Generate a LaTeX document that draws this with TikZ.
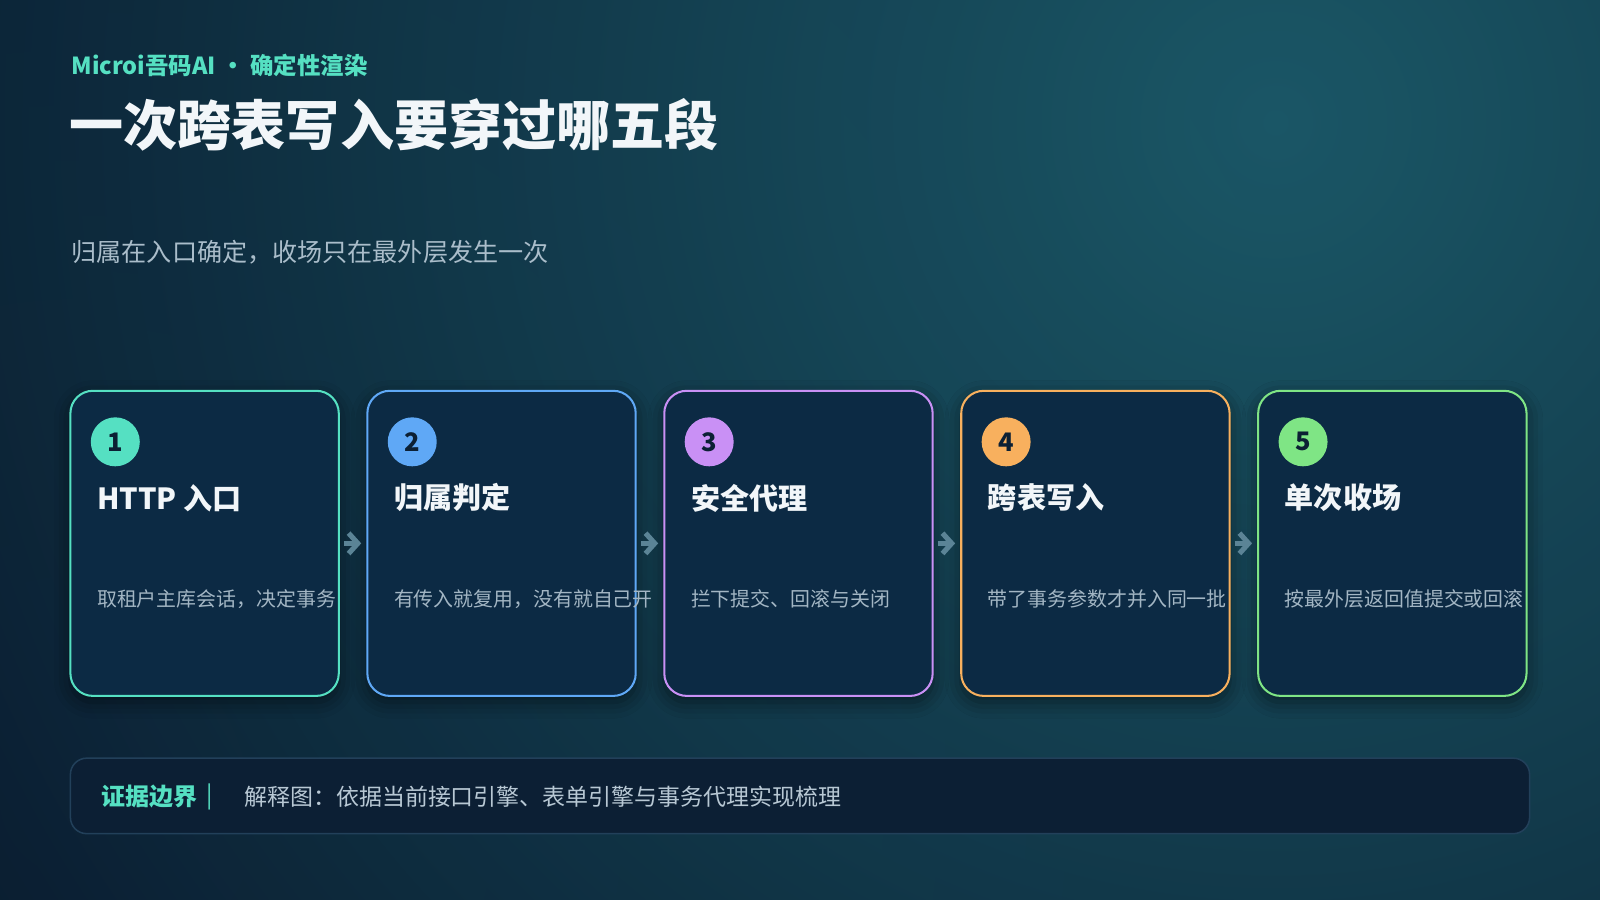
\documentclass[tikz,border=0pt]{standalone}
\usepackage{fontspec}
\setmainfont{Noto Sans CJK SC}
\newfontfamily\heavyfont{Noto Sans CJK SC Black}
\usetikzlibrary{positioning}
\usetikzlibrary{calc}
\usetikzlibrary{arrows.meta}
\usetikzlibrary{shadows.blur}

\definecolor{bgDark}{HTML}{0A1C2F}
\definecolor{bgGlow}{HTML}{1B5A69}
\definecolor{bgLow}{HTML}{0E3450}
\definecolor{cardFill}{HTML}{0C2A44}
\definecolor{mint}{HTML}{55E0C2}
\definecolor{skyBlue}{HTML}{5FA8F6}
\definecolor{lilac}{HTML}{C990F5}
\definecolor{amber}{HTML}{F8B05E}
\definecolor{leaf}{HTML}{7FE585}
\definecolor{titleWhite}{HTML}{F2F6F9}
\definecolor{subGray}{HTML}{AABDCA}
\definecolor{descGray}{HTML}{A3B6C4}
\definecolor{numText}{HTML}{0C2034}
\definecolor{arrowGray}{HTML}{5B8496}
\definecolor{noteFill}{HTML}{0C1F34}
\definecolor{noteLine}{HTML}{22405A}
\definecolor{noteText}{HTML}{B8C8D4}

\tikzset{
    card/.style = {draw, line width = 2pt, rounded corners = 22pt, fill = cardFill,
        minimum width = 263pt, minimum height = 299pt, inner sep = 0pt, outer sep = 0pt,
        blur shadow = {shadow xshift = 0pt, shadow yshift = -6pt, shadow blur radius = 16pt, shadow opacity = 50}},
    numdot/.style = {circle, minimum size = 48pt, inner sep = 0pt, text = numText,
        font = \fontsize{25}{25}\selectfont\bfseries},
    heading/.style = {anchor = west, inner sep = 0pt, text = titleWhite,
        font = \fontsize{28.5}{28.5}\selectfont\bfseries},
    desc/.style = {anchor = west, inner sep = 0pt, text = descGray,
        font = \fontsize{19.5}{19.5}\selectfont},
    flow/.style = {line width = 5pt, draw = arrowGray, -{Straight Barb[length = 9pt, width = 20pt]},
        shorten <= 5pt, shorten >= 6pt},
}

\begin{document}
\begin{tikzpicture}[x = 1pt, y = 1pt]
    \useasboundingbox (0,18) rectangle (1568,900);

    % background
    \begin{scope}
        \clip (0,18) rectangle (1568,900);
        \fill[bgDark] (0,18) rectangle (1568,900);
        \shade[inner color = bgLow, outer color = bgDark] (80,120) circle (1300);
        \shade[inner color = bgGlow, outer color = bgDark, opacity = 0.95] (1250,780) circle (1500);
    \end{scope}

    %\draw[help lines, opacity = 0.1] (0,18) grid[step = 100] (1568,900);

    % header
    \node (eyebrow) [anchor = west, inner sep = 0pt, text = mint, font = \fontsize{23}{23}\selectfont\bfseries]
        at (70,836) {Microi吾码AI • 确定性渲染};
    \node (title) [anchor = west, inner sep = 0pt, text = titleWhite, font = \fontsize{53}{53}\heavyfont]
        at (68,778) {一次跨表写入要穿过哪五段};
    \node (subtitle) [anchor = west, inner sep = 0pt, text = subGray, font = \fontsize{24.6}{24.6}\selectfont]
        at (70,653) {归属在入口确定，收场只在最外层发生一次};

    % cards
    \node (c1) [card, draw = mint] at (200.5,367.5) {};
    \node (c2) [card, draw = skyBlue, right = 28pt of c1] {};
    \node (c3) [card, draw = lilac, right = 28pt of c2] {};
    \node (c4) [card, draw = amber, right = 28pt of c3] {};
    \node (c5) [card, draw = leaf, right = 28pt of c4] {};

    \node (n1) [numdot, fill = mint] at ($(c1.north west) + (44,-50)$) {1};
    \node (h1) [heading] at ($(c1.north west) + (26,-105)$) {HTTP 入口};
    \node (d1) [desc] at ($(c1.north west) + (26,-204)$) {取租户主库会话，决定事务};

    \node (n2) [numdot, fill = skyBlue] at ($(c2.north west) + (44,-50)$) {2};
    \node (h2) [heading] at ($(c2.north west) + (26,-105)$) {归属判定};
    \node (d2) [desc] at ($(c2.north west) + (26,-204)$) {有传入就复用，没有就自己开};

    \node (n3) [numdot, fill = lilac] at ($(c3.north west) + (44,-50)$) {3};
    \node (h3) [heading] at ($(c3.north west) + (26,-105)$) {安全代理};
    \node (d3) [desc] at ($(c3.north west) + (26,-204)$) {拦下提交、回滚与关闭};

    \node (n4) [numdot, fill = amber] at ($(c4.north west) + (44,-50)$) {4};
    \node (h4) [heading] at ($(c4.north west) + (26,-105)$) {跨表写入};
    \node (d4) [desc] at ($(c4.north west) + (26,-204)$) {带了事务参数才并入同一批};

    \node (n5) [numdot, fill = leaf] at ($(c5.north west) + (44,-50)$) {5};
    \node (h5) [heading] at ($(c5.north west) + (26,-105)$) {单次收场};
    \node (d5) [desc] at ($(c5.north west) + (26,-204)$) {按最外层返回值提交或回滚};

    \draw[flow] (c1) -- (c2);
    \draw[flow] (c2) -- (c3);
    \draw[flow] (c3) -- (c4);
    \draw[flow] (c4) -- (c5);

    % evidence note
    \node (note) [draw = noteLine, line width = 1.5pt, fill = noteFill, rounded corners = 16pt,
        minimum width = 1430pt, minimum height = 74pt, inner sep = 0pt] at (784,120) {};
    \node (key) [anchor = west, inner sep = 0pt, text = mint, font = \fontsize{23.5}{23.5}\selectfont\bfseries]
        at ($(note.west) + (31,-1)$) {证据边界};
    \node (bar) [right = 9pt of key, inner sep = 0pt, text = mint, font = \fontsize{23}{23}\selectfont] {|};
    \node (explain) [anchor = west, inner sep = 0pt, text = noteText, font = \fontsize{22.5}{22.5}\selectfont]
        at ($(note.west) + (171,-1)$) {解释图：依据当前接口引擎、表单引擎与事务代理实现梳理};

\end{tikzpicture}
\end{document}
